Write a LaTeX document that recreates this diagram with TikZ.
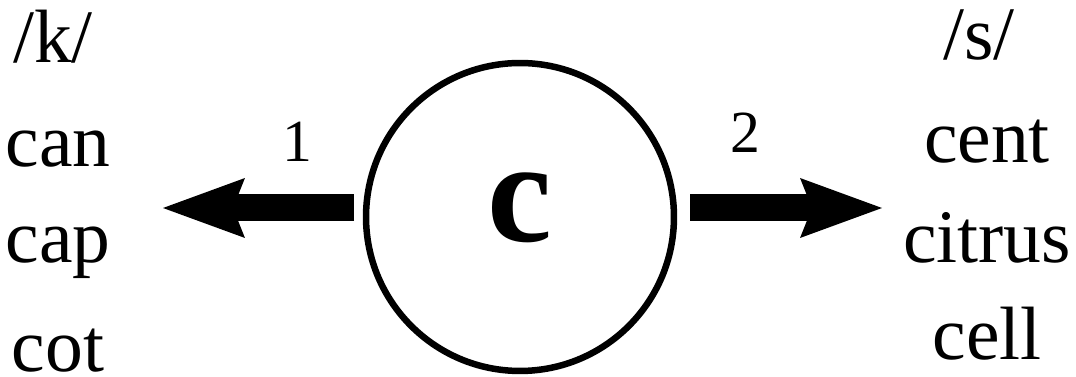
\documentclass[tikz,border=0pt]{standalone}
\usepackage{fontspec}
\setmainfont{Liberation Serif}
\usetikzlibrary{arrows.meta}

\begin{document}
\begin{tikzpicture}[
    x=0.02cm, y=-0.02cm,
    word/.style={font=\fontsize{43}{43}\selectfont, anchor=base, inner sep=0pt},
    num/.style={font=\fontsize{34}{34}\selectfont, anchor=base, inner sep=0pt},
    fatarrow/.style={line width=0.54cm,
        -{Stealth[length=1.64cm, width=1.2cm, inset=0.24cm, line width=0pt]}}
]
\useasboundingbox (0,0) rectangle (1076,377);

%% Kruh s písmenom c
\node[circle, draw, line width=0.13cm, minimum size=6.16cm] (letter) at (520,217) {};
\node[font=\bfseries\fontsize{83}{83}\selectfont, inner sep=0pt] (cglyph) at (520,208) {c};

%% Ľavý stĺpec: /k/
\foreach \idx/\w/\xx/\yy in {
    1/{/k/}/53/63,
    2/can/58/167,
    3/cap/58/263,
    4/cot/58/372
} {
    \node[word] (k\idx) at (\xx,\yy) {\w};
}

%% Pravý stĺpec: /s/
\foreach \idx/\w/\xx/\yy in {
    1/{/s/}/979/60,
    2/cent/987/163,
    3/citrus/987/263,
    4/cell/987/360
} {
    \node[word] (s\idx) at (\xx,\yy) {\w};
}

%% Šípky
\coordinate (kstart) at (354,208);
\coordinate (ktip)   at (163,208);
\coordinate (sstart) at (690,208);
\coordinate (stip)   at (882,208);
\draw[fatarrow] (kstart) -- (ktip);
\draw[fatarrow] (sstart) -- (stip);

%% Čísla nad šípkami
\node[num] (one) at (297,162) {1};
\node[num] (two) at (745,153) {2};

\end{tikzpicture}
\end{document}
